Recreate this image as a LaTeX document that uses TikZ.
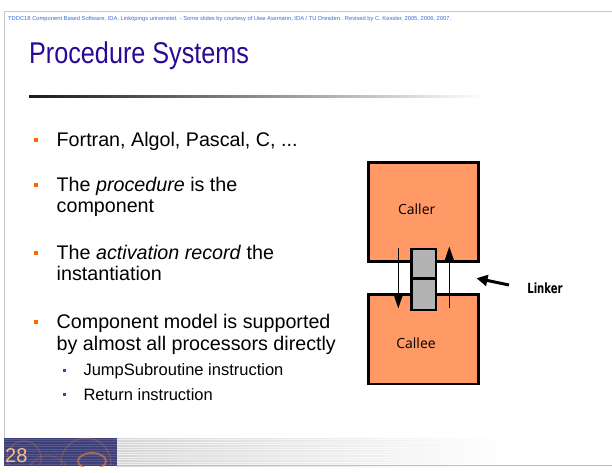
\documentclass[tikz,border=0pt]{standalone}
\usepackage{graphicx}
\usepackage{fontspec}
\setmainfont{Liberation Sans}
\newfontfamily\boxfont{Open Sans}
\newfontfamily\linkfont{DejaVu Sans}
\usetikzlibrary{arrows.meta}
\definecolor{hdrblue}{RGB}{60,110,215}
\definecolor{titleblue}{RGB}{40,10,150}
\definecolor{bulorange}{RGB}{255,102,0}
\definecolor{subblue}{RGB}{60,70,170}
\definecolor{boxorange}{RGB}{255,153,102}
\definecolor{recgray}{RGB}{179,179,179}
\definecolor{footnavy}{RGB}{62,64,122}
\definecolor{pagenum}{RGB}{250,190,130}
\definecolor{circorange}{RGB}{220,120,60}
\begin{document}
\begin{tikzpicture}[x=1pt,y=-1pt,
  bodytext/.style={anchor=base west, inner sep=0pt, font=\fontsize{19.7}{22}\selectfont},
  subtext/.style={anchor=base west, inner sep=0pt, font=\fontsize{16.5}{18}\selectfont},
  bul/.style={fill=bulorange, minimum size=4pt, inner sep=0pt},
  subbul/.style={fill=subblue, minimum size=3pt, inner sep=0pt},
  compbox/.style={draw=black, line width=2.7pt, fill=boxorange, minimum width=110pt, inner sep=0pt},
  recbox/.style={draw=black, line width=2.5pt, fill=recgray, minimum width=24.3pt, inner sep=0pt},
  boxlabel/.style={font=\boxfont\fontsize{14}{14}\selectfont, inner sep=0pt},
  flow/.style={line width=1.6pt, -{Triangle[width=9pt,length=14pt]}},
  linkarrow/.style={line width=3pt, -{Triangle[width=11pt,length=11pt]}}
]
\useasboundingbox (0,0) rectangle (612,472);
\fill[white] (0,0) rectangle (612,472);
% frame
\draw[black!22, line width=1pt] (4,438) -- (4,11) -- (612,11);
% header
\node[anchor=base west, inner sep=0pt, text=hdrblue] (hdr) at (8,20.5)
  {\resizebox{443pt}{!}{\fontsize{5.6}{6}\selectfont TDDC18 Component Based Software, IDA, Link\"opings universitet. - Some slides by courtesy of Uwe Assmann, IDA / TU Dresden.\ \ Revised by C. Kessler, 2005, 2006, 2007.}};
% title
\node[anchor=base west, inner sep=0pt, xscale=0.84, text=titleblue, font=\fontsize{30}{30}\selectfont] (title) at (29,63) {Procedure Systems};
\shade[left color=black!90, right color=white] (29,95) rectangle (485,97.7);
% bullets
\node[bul] (b1) at (36,140) {};
\node[bodytext] (t1) at (56.5,146) {Fortran, Algol, Pascal, C, ...};
\node[bul] (b2) at (36,185) {};
\node[bodytext] (t2a) at (56.5,191) {The \textit{procedure} is the};
\node[bodytext] (t2b) at (56.5,212.7) {component};
\node[bul] (b3) at (36,253) {};
\node[bodytext] (t3a) at (56.5,259) {The \textit{activation record} the};
\node[bodytext] (t3b) at (56.5,280.7) {instantiation};
\node[bul] (b4) at (36,322) {};
\node[bodytext] (t4a) at (56.5,328) {Component model is supported};
\node[bodytext] (t4b) at (56.5,350) {by almost all processors directly};
\node[subbul] (s1) at (64.7,370) {};
\node[subtext] (u1) at (83.3,375.5) {JumpSubroutine instruction};
\node[subbul] (s2) at (64.7,394.5) {};
\node[subtext] (u2) at (83.3,400) {Return instruction};
% diagram
\node[compbox, minimum height=99pt] (caller) at (423.3,212.2) {};
\node[boxlabel] (callertext) at (416.7,209) {Caller};
\node[compbox, minimum height=89.7pt] (callee) at (423.3,339.2) {};
\node[boxlabel] (calleetext) at (416,343) {Callee};
\node[recbox, minimum height=29.3pt] (rec1) at (423.85,263.65) {};
\node[recbox, minimum height=31.7pt] (rec2) at (423.85,294.15) {};
\coordinate (downs) at (398.3,248);
\coordinate (downe) at (398.3,308.5);
\coordinate (ups) at (449.3,307.7);
\coordinate (upe) at (449.3,246.5);
\draw[flow] (downs) -- (downe);
\draw[flow] (ups) -- (upe);
\node[font=\linkfont\bfseries\fontsize{14}{14}\selectfont, inner sep=0pt, xscale=0.72] (linker) at (545,288) {Linker};
\coordinate (linktail) at (509,285);
\coordinate (linktip) at (476.5,278.2);
\draw[linkarrow] (linktail) -- (linktip);
% footer bar (gray)
\shade[left color=black!16, right color=white] (117,438) rectangle (510,466);
\foreach \yy in {439.5,442,444.5,447,449.5,452,454.5,457,459.5,462,464.5}
  \draw[white, opacity=0.55, line width=0.8pt] (117,\yy) -- (510,\yy);
\draw[black!25, line width=0.8pt] (117,465.6) -- (612,465.6);
% footer block
\fill[footnavy] (4,438) rectangle (117,466);
\begin{scope}
  \clip (4,438) rectangle (117,466);
  \foreach \yy in {439,441.5,444,446.5,449,451.5,454,456.5,459,461.5,464}
    \draw[white, opacity=0.12, line width=0.8pt] (4,\yy) -- (117,\yy);
  \draw[circorange, opacity=0.3, line width=1.3pt] (24,458) circle (17);
  \draw[circorange, opacity=0.3, line width=1.3pt] (86,463) circle (25);
  \draw[circorange, opacity=0.25, line width=1.3pt] (48,478) circle (22);
  \draw[circorange, opacity=0.7, line width=1.8pt] (92,461) ellipse (14 and 8);
\end{scope}
\node[anchor=base west, inner sep=0pt, text=pagenum, font=\fontsize{20}{20}\selectfont] (pg) at (5,462.7) {28};
\end{tikzpicture}
\end{document}
